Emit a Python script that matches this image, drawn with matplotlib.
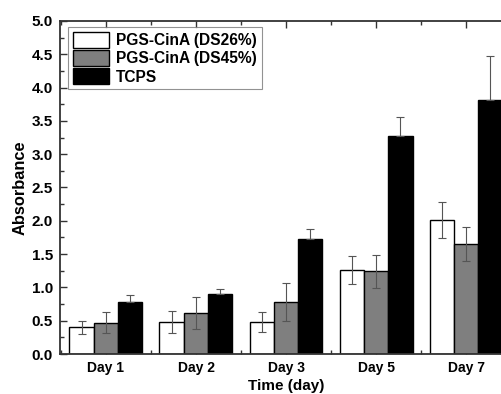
import numpy as np
import matplotlib
matplotlib.use("Agg")
import matplotlib.pyplot as plt
from matplotlib.ticker import MultipleLocator, FormatStrFormatter

plt.rcParams['font.family'] = ['Liberation Sans', 'DejaVu Sans']
plt.rcParams['font.weight'] = 'bold'

days = ['Day 1', 'Day 2', 'Day 3', 'Day 5', 'Day 7']
series = ['PGS-CinA (DS26%)', 'PGS-CinA (DS45%)', 'TCPS']
ds26 = [0.40, 0.48, 0.48, 1.26, 2.01]
ds26_err = [0.10, 0.17, 0.15, 0.21, 0.27]
ds45 = [0.47, 0.62, 0.78, 1.24, 1.65]
ds45_err = [0.16, 0.24, 0.29, 0.25, 0.26]
tcps = [0.78, 0.90, 1.72, 3.27, 3.81]
tcps_err = [0.10, 0.08, 0.15, 0.29, 0.67]

colors = ['white', '#7f7f7f', 'black']
values = [ds26, ds45, tcps]
errors = [ds26_err, ds45_err, tcps_err]

fig = plt.figure(figsize=(5.02, 3.94), dpi=100)
ax = fig.add_axes([60 / 502, 40 / 394, 452 / 502, 333 / 394])

x = np.arange(len(days))
w = 0.27
for i in range(3):
    ax.bar(x + (i - 1) * w, values[i], w, color=colors[i], edgecolor='black',
           linewidth=1.0, label=series[i], zorder=2)
    err = errors[i]
    if i == 2:
        # lower half is hidden inside the black bars
        err = [np.zeros(len(err)), err]
    ax.errorbar(x + (i - 1) * w, values[i], yerr=err, fmt='none',
                ecolor='#555555', elinewidth=0.8, capsize=3, capthick=0.8, zorder=3)

ax.set_xlim(-0.51, 4.51)
ax.set_ylim(0, 5.0)
ax.set_xticks(x)
ax.set_xticklabels(days)
ax.xaxis.set_minor_locator(MultipleLocator(0.5))
ax.yaxis.set_major_locator(MultipleLocator(0.5))
ax.yaxis.set_minor_locator(MultipleLocator(0.25))
ax.yaxis.set_major_formatter(FormatStrFormatter('%.1f'))
ax.tick_params(which='both', direction='in', top=True, right=True, colors='#333333')
ax.tick_params(which='major', length=5, width=1)
ax.tick_params(which='minor', length=3, width=1)
ax.tick_params(axis='x', labelsize=10, pad=5)
ax.tick_params(axis='y', labelsize=11, pad=5)
for lab in ax.get_xticklabels() + ax.get_yticklabels():
    lab.set_color('black')
    lab.set_fontweight('bold')
for s in ax.spines.values():
    s.set_linewidth(1.3)
    s.set_color('#333333')

ax.set_xlabel('Time (day)', fontsize=11, fontweight='bold', labelpad=3)
ax.set_ylabel('Absorbance', fontsize=11.8, fontweight='bold', labelpad=3)

leg = ax.legend(loc='upper left', bbox_to_anchor=(0.018, 0.982), fontsize=11.2,
                frameon=True, fancybox=False, handlelength=2.35, handleheight=1.2,
                borderpad=0.3, labelspacing=0.14, handletextpad=0.45, borderaxespad=0)
leg.get_frame().set_edgecolor('#777777')
leg.get_frame().set_linewidth(0.8)
for t in leg.get_texts():
    t.set_fontweight('bold')

fig.savefig('out.png', dpi=100, facecolor='white')
